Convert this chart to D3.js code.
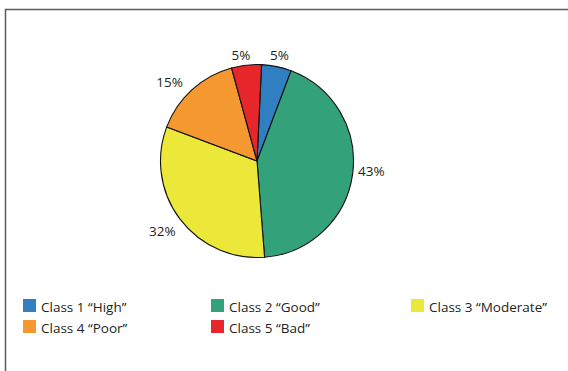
<!DOCTYPE html>
<html>
<head>
<meta charset="utf-8">
<script src="https://cdn.jsdelivr.net/npm/d3@7"></script>
<style>
  html, body { margin: 0; padding: 0; background: #fff; }
  svg { display: block; }
  text { font-family: "Open Sans", "Noto Sans", sans-serif; fill: #231f20; }
</style>
</head>
<body>
<svg id="chart" width="568" height="371"></svg>
<script>
// Share of water bodies per quality class (percent)
const classes = ["Class 1 \u201CHigh\u201D", "Class 2 \u201CGood\u201D", "Class 3 \u201CModerate\u201D", "Class 4 \u201CPoor\u201D", "Class 5 \u201CBad\u201D"];
const shares = [5, 43, 32, 15, 5];
const colors = ["#2f7fc1", "#33a27a", "#ece83a", "#f4982f", "#e6262a"];

const svg = d3.select("#chart");

// Frame: top and left edges only
svg.append("path")
  .attr("d", "M5.5,371 V9.5 H568")
  .attr("fill", "none")
  .attr("stroke", "#5a5a5a")
  .attr("stroke-width", 1.5);

const cx = 257, cy = 161, r = 96.5;
const startAngle = 2.7 * Math.PI / 180;

const pie = d3.pie()
  .sort(null)
  .value(d => d)
  .startAngle(startAngle)
  .endAngle(startAngle + 2 * Math.PI);

const arcs = pie(shares);
const arc = d3.arc().innerRadius(0).outerRadius(r);

const g = svg.append("g").attr("transform", `translate(${cx},${cy})`);

g.selectAll("path.slice")
  .data(arcs)
  .join("path")
  .attr("class", "slice")
  .attr("d", arc)
  .attr("fill", (d, i) => colors[i])
  .attr("stroke", "#111")
  .attr("stroke-width", 1.1)
  .attr("stroke-linejoin", "round");

// Percentage labels outside each slice, with small per-label offsets
const labelArc = d3.arc().innerRadius(r + 17).outerRadius(r + 17);
const labelNudge = [[-0.5, 5.5], [2, -6], [-4, 1.5], [-11, 5], [-3.5, 7]];
g.selectAll("text.pct")
  .data(arcs)
  .join("text")
  .attr("class", "pct")
  .attr("x", (d, i) => labelArc.centroid(d)[0] + labelNudge[i][0])
  .attr("y", (d, i) => labelArc.centroid(d)[1] + labelNudge[i][1])
  .attr("text-anchor", "middle")
  .attr("dominant-baseline", "central")
  .attr("font-size", 13.5)
  .text(d => d.data + "%");

// Legend: three columns, two rows
const colX = [23, 211, 411];
const rowY = [299, 320];
const legend = svg.append("g");
classes.forEach((name, i) => {
  const x = colX[i % 3], y = rowY[Math.floor(i / 3)];
  legend.append("rect")
    .attr("x", x).attr("y", y)
    .attr("width", 13).attr("height", 13)
    .attr("fill", colors[i]);
  legend.append("text")
    .attr("x", x + 18).attr("y", y + 13)
    .attr("font-size", 13.5)
    .text(name);
});
</script>
</body>
</html>
